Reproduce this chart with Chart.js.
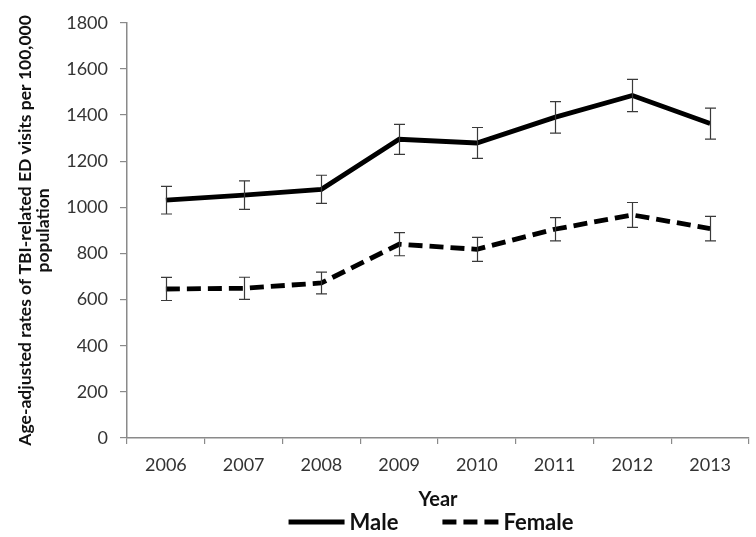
<!DOCTYPE html>
<html>
<head>
<meta charset="utf-8">
<script src="https://cdn.jsdelivr.net/npm/chart.js@4"></script>
<style>
  html, body { margin: 0; padding: 0; background: #fff; }
  #wrap { width: 756px; height: 537px; }
</style>
</head>
<body>
<div id="wrap"><canvas id="chart" width="756" height="537"></canvas></div>
<script>
// chart data
var years = ['2006', '2007', '2008', '2009', '2010', '2011', '2012', '2013'];
var male = [1031, 1053, 1078, 1295, 1279, 1390, 1485, 1363];
var maleErr = [60, 62, 61, 65, 67, 68, 70, 67];
var female = [646, 649, 672, 840, 818, 905, 967, 908];
var femaleErr = [50, 48, 47, 50, 52, 50, 54, 53];
var yTitle = ['Age-adjusted rates of TBI-related ED visits per 100,000', 'population'];
var xTitle = 'Year';

var FONT = 'Lato, "Open Sans", sans-serif';

// draws the +/- error bars from each dataset's err array
var errorBars = {
    id: 'errorBars',
    afterDatasetsDraw: function (chart) {
        var ctx = chart.ctx;
        var xs = chart.scales.x, ys = chart.scales.y;
        ctx.save();
        ctx.strokeStyle = '#3a3a3a';
        ctx.lineWidth = 1.2;
        chart.data.datasets.forEach(function (ds) {
            for (var i = 0; i < ds.data.length; i++) {
                var x = Math.round(xs.getPixelForValue(i)) + 0.5;
                var top = ys.getPixelForValue(ds.data[i] + ds.err[i]);
                var bot = ys.getPixelForValue(ds.data[i] - ds.err[i]);
                ctx.beginPath();
                ctx.moveTo(x, top); ctx.lineTo(x, bot);
                ctx.moveTo(x - 5.5, top); ctx.lineTo(x + 5.5, top);
                ctx.moveTo(x - 5.5, bot); ctx.lineTo(x + 5.5, bot);
                ctx.stroke();
            }
        });
        ctx.restore();
    }
};

// legend under the axis title, centred on the plot
var bottomLegend = {
    id: 'bottomLegend',
    afterDraw: function (chart) {
        var ctx = chart.ctx;
        var area = chart.chartArea;
        var lineW = 56, gapText = 5, gapItem = 44;
        ctx.save();
        ctx.font = 'bold 22px ' + FONT;
        ctx.textBaseline = 'middle';
        ctx.fillStyle = '#111';
        var widths = chart.data.datasets.map(function (ds) { return ctx.measureText(ds.label).width; });
        var total = 0;
        widths.forEach(function (w, i) { total += lineW + gapText + w + (i ? gapItem : 0); });
        var x = (area.left + area.right) / 2 - 7 - total / 2;
        var y = 522;
        chart.data.datasets.forEach(function (ds, i) {
            ctx.beginPath();
            ctx.lineWidth = ds.borderWidth;
            ctx.strokeStyle = ds.borderColor;
            ctx.setLineDash(ds.borderDash || []);
            ctx.moveTo(x, y); ctx.lineTo(x + lineW, y);
            ctx.stroke();
            ctx.setLineDash([]);
            ctx.fillText(ds.label, x + lineW + gapText, y + 1);
            x += lineW + gapText + widths[i] + gapItem;
        });
        ctx.restore();
    }
};

new Chart(document.getElementById('chart').getContext('2d'), {
    type: 'line',
    data: {
        labels: years,
        datasets: [
            {
                label: 'Male',
                data: male,
                err: maleErr,
                borderColor: '#000',
                borderWidth: 4.8,
                borderDash: [],
                pointRadius: 0,
                tension: 0
            },
            {
                label: 'Female',
                data: female,
                err: femaleErr,
                borderColor: '#000',
                borderWidth: 4.8,
                borderDash: [14, 7],
                pointRadius: 0,
                tension: 0
            }
        ]
    },
    options: {
        responsive: false,
        animation: false,
        layout: { padding: { top: 21, right: 7, bottom: 25, left: 0 } },
        plugins: {
            legend: { display: false },
            tooltip: { enabled: false }
        },
        scales: {
            x: {
                offset: true,
                grid: { offset: true, drawOnChartArea: false, tickLength: 6, color: '#8a8a8a', lineWidth: 1.2 },
                border: { color: '#8a8a8a', width: 1.5 },
                ticks: { padding: 10, color: '#333', font: { family: FONT, size: 18 } },
                title: { display: true, text: xTitle, color: '#111', padding: { top: 12, bottom: 0 },
                         font: { family: FONT, size: 20, weight: 'bold' } },
                afterFit: function (s) { s.height = 74; }
            },
            y: {
                min: 0,
                max: 1800,
                grid: { drawOnChartArea: false, tickLength: 7, color: '#8a8a8a', lineWidth: 1.2 },
                border: { color: '#8a8a8a', width: 1.5 },
                ticks: {
                    stepSize: 200, padding: 12, color: '#333', font: { family: FONT, size: 18 },
                    callback: function (v) { return String(v); }
                },
                title: { display: true, text: yTitle, color: '#111', padding: { top: 16, bottom: 0 },
                         font: { family: FONT, size: 17.5, weight: 'bold', lineHeight: 1.05 } },
                afterFit: function (s) { s.width = 127; }
            }
        }
    },
    plugins: [errorBars, bottomLegend]
});
</script>
</body>
</html>
